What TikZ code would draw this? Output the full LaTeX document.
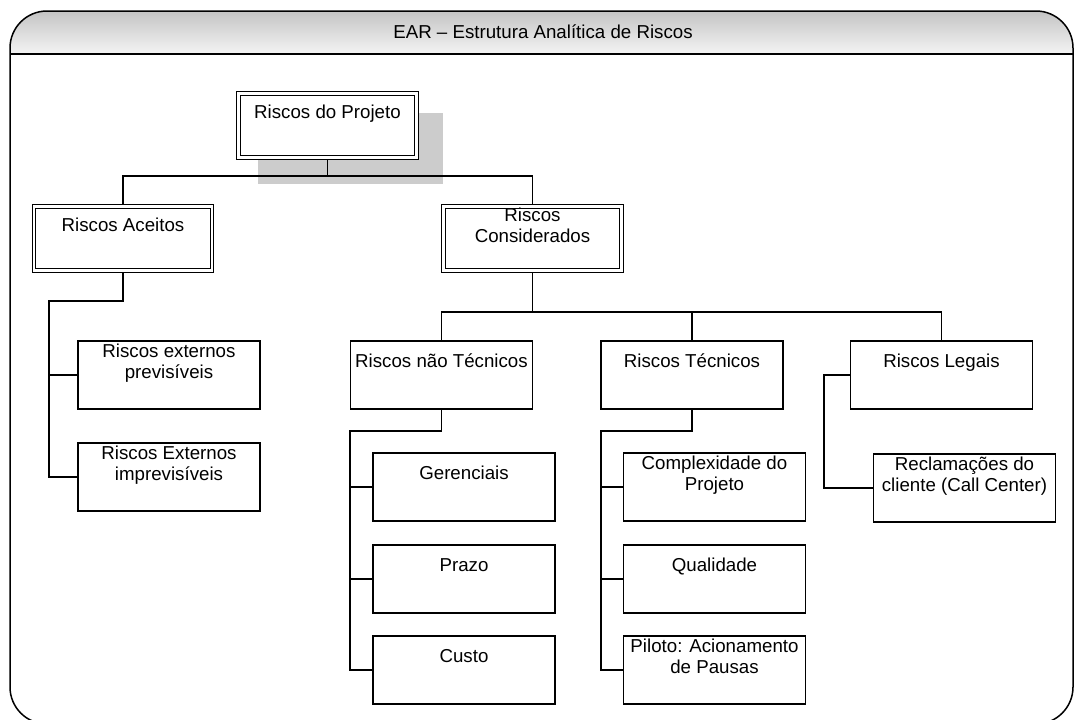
\documentclass[tikz,border=0pt]{standalone}
\usepackage{fontspec}
\setmainfont{Liberation Sans}
\usetikzlibrary{backgrounds}

% box content: width, height, height of the text band at the top, text
\newcommand\boxtext[4]{\parbox[c][#2][t]{#1}{\parbox[c][#3][c]{#1}{\centering\strut #4\strut}}}

\definecolor{hdrtop}{RGB}{196,196,196}
\definecolor{hdrbot}{RGB}{244,244,244}
\definecolor{shadowgray}{RGB}{204,204,204}

\tikzset{
  every node/.style={font=\fontsize{18.7pt}{21pt}\selectfont},
  box/.style={draw, line width=1.5pt, fill=white, inner sep=0pt, rectangle},
  dbox/.style={draw, double, line width=1.2pt, double distance=2.4pt, fill=white, inner sep=0pt, rectangle},
  conn/.style={line width=1.3pt},
  frameline/.style={line width=1.5pt}
}

\begin{document}
\begin{tikzpicture}[x=1pt, y=-1pt]
\useasboundingbox (0,0) rectangle (1074,720);

% outer frame with shaded title band
\begin{scope}
  \clip[rounded corners=37pt] (10,11) rectangle (1073,724);
  \shade[top color=hdrtop, bottom color=hdrbot] (10,11) rectangle (1073,54);
\end{scope}
\draw[frameline, rounded corners=37pt] (10,11) rectangle (1073,724);
\draw[frameline] (10,54) -- (1073,54);
\node[anchor=base, inner sep=0pt] (title) at (543,38) {EAR – Estrutura Analítica de Riscos};

% level 0 and 1 (double border)
\node[dbox] (root)   at (327.5,125.5) {\boxtext{178pt}{64pt}{42pt}{Riscos do Projeto}};
\node[dbox] (aceit)  at (123,238.5)   {\boxtext{178pt}{64pt}{42pt}{Riscos Aceitos}};
\node[dbox] (consid) at (532.5,238.5) {\boxtext{178pt}{64pt}{42pt}{Riscos\\Considerados}};

% accepted risks
\node[box] (extprev) at (169,375) {\boxtext{182pt}{68pt}{45.5pt}{Riscos externos\\previsíveis}};
\node[box] (extimp)  at (169,477) {\boxtext{182pt}{68pt}{45.5pt}{Riscos Externos\\imprevisíveis}};

% considered risks
\node[box] (ntec)   at (441.5,375) {\boxtext{182pt}{68pt}{45.5pt}{Riscos não Técnicos}};
\node[box] (tec)    at (692,375)   {\boxtext{182pt}{68pt}{45.5pt}{Riscos Técnicos}};
\node[box] (legais) at (941.5,375) {\boxtext{182pt}{68pt}{45.5pt}{Riscos Legais}};

\node[box] (ger)   at (464,487) {\boxtext{182pt}{68pt}{45.5pt}{Gerenciais}};
\node[box] (prazo) at (464,579) {\boxtext{182pt}{68pt}{45.5pt}{Prazo}};
\node[box] (custo) at (464,670) {\boxtext{182pt}{68pt}{45.5pt}{Custo}};

\node[box] (compl) at (714.5,487) {\boxtext{182pt}{68pt}{45.5pt}{Complexidade do\\Projeto}};
\node[box] (qual)  at (714.5,579) {\boxtext{182pt}{68pt}{45.5pt}{Qualidade}};
\node[box] (pil)   at (714.5,670) {\boxtext{182pt}{68pt}{45.5pt}{Piloto: Acionamento\\de Pausas}};

\node[box] (recl) at (964.5,488) {\boxtext{182pt}{68pt}{45.5pt}{Reclamações do\\cliente (Call Center)}};

% junction points of the tree
\coordinate (busA) at (0,176);
\coordinate (busB) at (0,312);
\coordinate (ja) at (49,301);
\coordinate (jn) at (350,431);
\coordinate (jt) at (601,431);
\coordinate (jl) at (824,0);

\begin{scope}[on background layer]
  % shadow of the top box
  \fill[shadowgray] ([shift={(19.6pt,-19.6pt)}]root.north west) rectangle ([shift={(25.4pt,-25.4pt)}]root.south east);

  % root to level 1
  \draw[conn] (root.south) -- (root.south |- busA);
  \draw[conn] (aceit.north) |- (consid.north |- busA) -- (consid.north);

  % accepted risks
  \draw[conn] (aceit.south) |- (ja) |- (extimp.west);
  \draw[conn] (ja |- extprev.west) -- (extprev.west);

  % considered risks
  \draw[conn] (consid.south) -- (consid.south |- busB);
  \draw[conn] (ntec.north) |- (legais.north |- busB) -- (legais.north);
  \draw[conn] (tec.north) -- (tec.north |- busB);

  % non-technical risks
  \draw[conn] (ntec.south) |- (jn) |- (custo.west);
  \draw[conn] (jn |- ger.west) -- (ger.west);
  \draw[conn] (jn |- prazo.west) -- (prazo.west);

  % technical risks
  \draw[conn] (tec.south) |- (jt) |- (pil.west);
  \draw[conn] (jt |- compl.west) -- (compl.west);
  \draw[conn] (jt |- qual.west) -- (qual.west);

  % legal risks
  \draw[conn] (legais.west) -| (jl |- recl.west) -- (recl.west);
\end{scope}
\end{tikzpicture}
\end{document}
